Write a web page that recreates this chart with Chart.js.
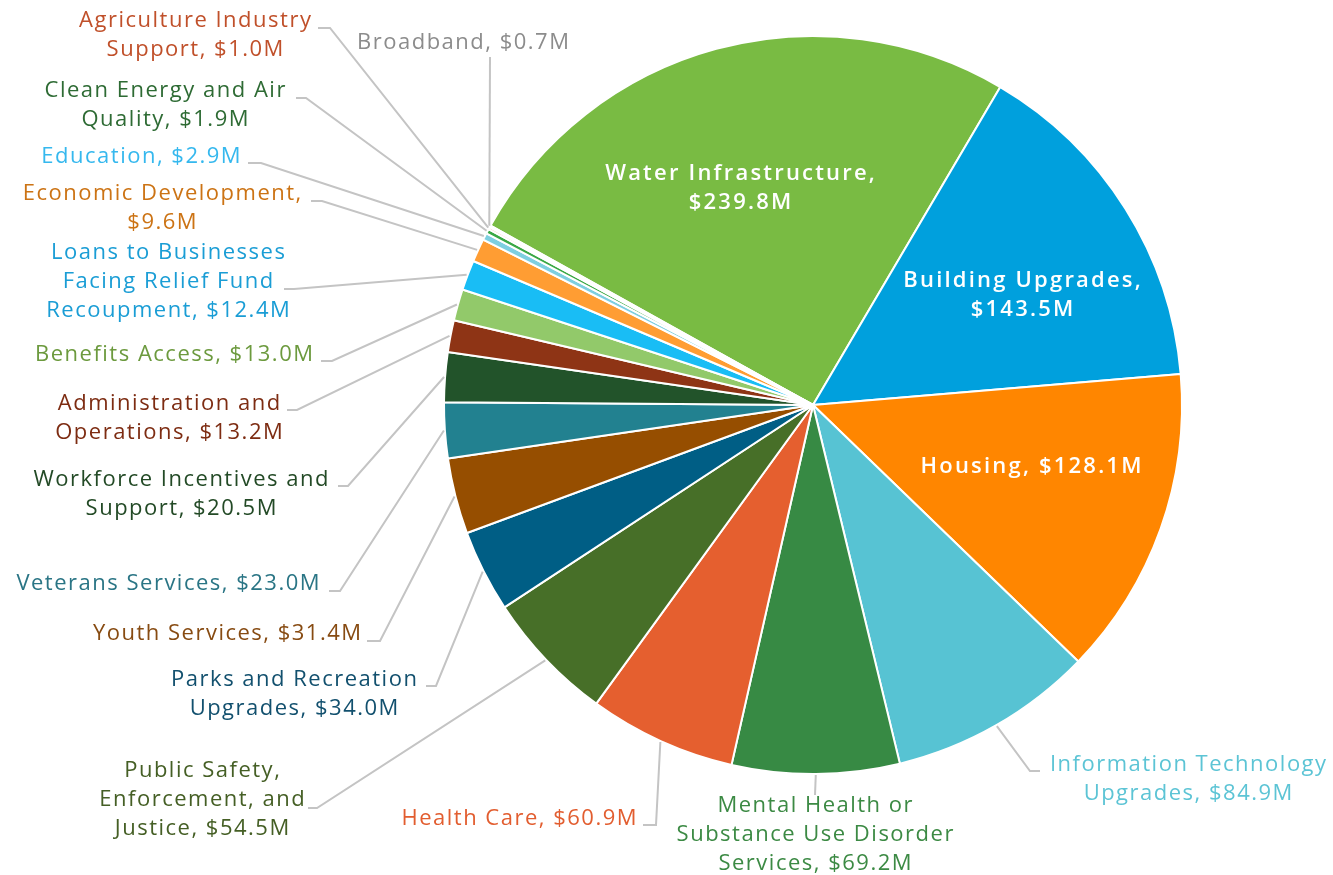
<!DOCTYPE html>
<html>
<head>
<meta charset="utf-8">
<script src="https://cdn.jsdelivr.net/npm/chart.js@4.4.1/dist/chart.umd.min.js"></script>
<style>
  html, body { margin: 0; padding: 0; background: #fff; }
  #wrap { width: 1333px; height: 875px; position: relative; }
</style>
</head>
<body>
<div id="wrap"><canvas id="pie"></canvas></div>
<script>
// slices, clockwise from the top
var categories = [
  'Water Infrastructure', 'Building Upgrades', 'Housing', 'Information Technology Upgrades',
  'Mental Health or Substance Use Disorder Services', 'Health Care',
  'Public Safety, Enforcement, and Justice', 'Parks and Recreation Upgrades', 'Youth Services',
  'Veterans Services', 'Workforce Incentives and Support', 'Administration and Operations',
  'Benefits Access', 'Loans to Businesses Facing Relief Fund Recoupment', 'Economic Development',
  'Education', 'Clean Energy and Air Quality', 'Agriculture Industry Support', 'Broadband'
];
var amounts = [239.8, 143.5, 128.1, 84.9, 69.2, 60.9, 54.5, 34.0, 31.4, 23.0, 20.5, 13.2, 13.0, 12.4, 9.6, 2.9, 1.9, 1.0, 0.7];

// how each label is broken into lines
var labelLines = [
  ['Water Infrastructure,', '$239.8M'],
  ['Building Upgrades,', '$143.5M'],
  ['Housing, $128.1M'],
  ['Information Technology', 'Upgrades, $84.9M'],
  ['Mental Health or', 'Substance Use Disorder', 'Services, $69.2M'],
  ['Health Care, $60.9M'],
  ['Public Safety,', 'Enforcement, and', 'Justice, $54.5M'],
  ['Parks and Recreation', 'Upgrades, $34.0M'],
  ['Youth Services, $31.4M'],
  ['Veterans Services, $23.0M'],
  ['Workforce Incentives and', 'Support, $20.5M'],
  ['Administration and', 'Operations, $13.2M'],
  ['Benefits Access, $13.0M'],
  ['Loans to Businesses', 'Facing Relief Fund', 'Recoupment, $12.4M'],
  ['Economic Development,', '$9.6M'],
  ['Education, $2.9M'],
  ['Clean Energy and Air', 'Quality, $1.9M'],
  ['Agriculture Industry', 'Support, $1.0M'],
  ['Broadband, $0.7M']
];

var sliceColors = [
  '#79bb43', '#00a0dd', '#ff8600', '#57c3d3', '#378a44', '#e55f2f', '#476f28', '#005e85', '#964e00',
  '#228190', '#22532a', '#8e3415', '#92c96a', '#19bdf5', '#ff9d33', '#7ecfe0', '#3aa845', '#f3a787', '#d9d9d9'
];
var textColors = [
  '#ffffff', '#ffffff', '#ffffff', '#5cc4d5', '#3c8a44', '#e25d2f', '#455f25', '#12506e', '#874b12',
  '#2a7585', '#234a26', '#7d2c12', '#6c9a3e', '#1a9dd5', '#cc7314', '#35b8ee', '#2e6b34', '#c0502a', '#8c8c8c'
];

// label placement: text centre x, first line y, leader start (lx, ly), elbow x
var labelPos = [
  { x: 740, y: 174 },
  { x: 1022, y: 281 },
  { x: 1031, y: 467 },
  { x: 1188, y: 765, lx: 1040, ly: 771, ex: 1030 },
  { x: 815, y: 806, lx: 815, ly: 795, ex: 815 },
  { x: 519, y: 819, lx: 643, ly: 825, ex: 656 },
  { x: 202, y: 771, lx: 308, ly: 808, ex: 317 },
  { x: 294, y: 680, lx: 426, ly: 686, ex: 436 },
  { x: 227, y: 634, lx: 367, ly: 641, ex: 380 },
  { x: 168, y: 584, lx: 329, ly: 591, ex: 340 },
  { x: 181, y: 480, lx: 338, ly: 486, ex: 348 },
  { x: 169, y: 404, lx: 287, ly: 410, ex: 297 },
  { x: 174, y: 355, lx: 321, ly: 361, ex: 332 },
  { x: 168, y: 253, lx: 284, ly: 289, ex: 294 },
  { x: 162, y: 194, lx: 311, ly: 201, ex: 322 },
  { x: 141, y: 157, lx: 248, ly: 163, ex: 261 },
  { x: 165, y: 91, lx: 296, ly: 98, ex: 306 },
  { x: 195, y: 21, lx: 318, ly: 28, ex: 330 },
  { x: 463, y: 43, lx: 490, ly: 57, ex: 490 }
];

var FONT = '"Open Sans", "Noto Sans", sans-serif';

var labelPlugin = {
  id: 'pieLabels',
  afterDraw: function(chart) {
    var ctx = chart.ctx;
    var arcs = chart.getDatasetMeta(0).data;
    ctx.save();
    for (var i = 0; i < arcs.length; i++) {
      var p = labelPos[i];
      var a = arcs[i].getProps(['x', 'y', 'startAngle', 'endAngle', 'outerRadius'], true);
      var inside = p.lx === undefined;
      if (!inside) {
        var mid = (a.startAngle + a.endAngle) / 2;
        var r = a.outerRadius + 1;
        ctx.strokeStyle = '#c4c4c4';
        ctx.lineWidth = 2;
        ctx.beginPath();
        ctx.moveTo(p.lx, p.ly);
        ctx.lineTo(p.ex, p.ly);
        ctx.lineTo(a.x + Math.cos(mid) * r, a.y + Math.sin(mid) * r);
        ctx.stroke();
      }
      var sp = inside ? 2.2 : 1.5;
      ctx.font = (inside ? '600 ' : '500 ') + '22px ' + FONT;
      ctx.letterSpacing = sp + 'px';
      ctx.fillStyle = textColors[i];
      ctx.textAlign = 'center';
      ctx.textBaseline = 'middle';
      var lines = labelLines[i];
      for (var j = 0; j < lines.length; j++) {
        ctx.fillText(lines[j], p.x + sp / 2, p.y + j * 29);
      }
    }
    ctx.restore();
  }
};

var ctx = document.getElementById('pie').getContext('2d');
var chart = new Chart(ctx, {
  type: 'pie',
  data: {
    labels: categories,
    datasets: [{
      data: amounts,
      backgroundColor: sliceColors,
      borderColor: '#ffffff',
      borderWidth: 2
    }]
  },
  options: {
    responsive: true,
    maintainAspectRatio: false,
    animation: false,
    rotation: -60.9,
    layout: { padding: { left: 443, right: 150, top: 35, bottom: 100 } },
    plugins: {
      legend: { display: false },
      tooltip: { enabled: false }
    }
  },
  plugins: [labelPlugin]
});
</script>
</body>
</html>
